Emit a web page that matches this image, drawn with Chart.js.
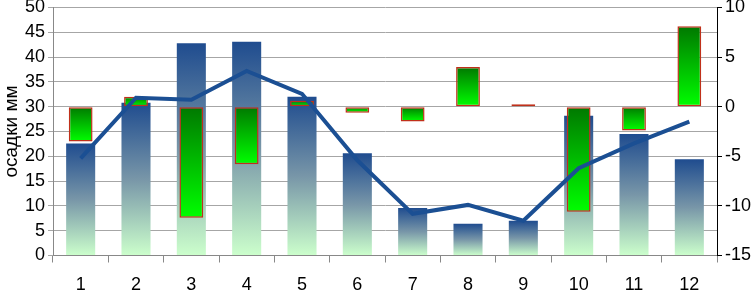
<!DOCTYPE html>
<html>
<head>
<meta charset="utf-8">
<script src="https://cdn.jsdelivr.net/npm/chart.js@4"></script>
<style>
  body { margin: 0; background: #fff; }
  #wrap { width: 753px; height: 291px; position: relative; }
</style>
</head>
<body>
<div id="wrap"><canvas id="myChart"></canvas></div>
<script>
"use strict";
var months = ['1', '2', '3', '4', '5', '6', '7', '8', '9', '10', '11', '12'];
// осадки, мм (left axis)
var precip = [22.6, 30.8, 42.8, 43.1, 32.0, 20.6, 9.6, 6.4, 7.0, 28.2, 24.5, 19.4];
// anomalies (right axis)
var anomaly = [-3.5, 1.0, -11.2, -5.8, 0.6, -0.6, -1.5, 4.0, 0.25, -10.6, -2.4, 8.1];
// temperature line (right axis)
var temp = [-5.2, 0.9, 0.7, 3.6, 1.3, -5.4, -10.8, -9.9, -11.5, -6.2, -3.7, -1.5];

var font = { family: 'Liberation Sans, Arial, sans-serif', size: 18 };

// gradient for each bar from its own top to bottom
function barGradient(ctx, axisId, from, to, mid) {
    var chart = ctx.chart;
    if (!chart.chartArea || !chart.scales[axisId]) return from;
    var scale = chart.scales[axisId];
    var a = scale.getPixelForValue(ctx.raw);
    var b = scale.getPixelForValue(0);
    var top = Math.min(a, b), bot = Math.max(a, b);
    if (bot - top < 1) bot = top + 1;
    var g = chart.ctx.createLinearGradient(0, top, 0, bot);
    g.addColorStop(0, from);
    if (mid) g.addColorStop(0.5, mid);
    g.addColorStop(1, to);
    return g;
}

var ctx = document.getElementById('myChart').getContext('2d');
var myChart = new Chart(ctx, {
    type: 'bar',
    data: {
        labels: months,
        datasets: [{
            type: 'line',
            data: temp,
            yAxisID: 'y1',
            borderColor: '#1b4f93',
            borderWidth: 4,
            pointRadius: 0,
            tension: 0,
            order: 0
        }, {
            data: anomaly,
            yAxisID: 'y1',
            grouped: false,
            categoryPercentage: 1,
            barPercentage: 0.43,
            backgroundColor: function (c) { return barGradient(c, 'y1', '#007800', '#00ff00'); },
            borderColor: '#c0301a',
            borderWidth: 1.5,
            borderSkipped: false,
            order: 1
        }, {
            data: precip,
            yAxisID: 'y',
            grouped: false,
            categoryPercentage: 1,
            barPercentage: 0.525,
            backgroundColor: function (c) { return barGradient(c, 'y', '#1f4c8f', '#ccffcc', '#7896a8'); },
            borderWidth: 0,
            order: 2
        }]
    },
    options: {
        responsive: true,
        maintainAspectRatio: false,
        animation: false,
        layout: { padding: 0 },
        plugins: {
            legend: { display: false },
            tooltip: { enabled: false }
        },
        scales: {
            x: {
                grid: {
                    offset: true,
                    drawOnChartArea: false,
                    color: '#888',
                    tickLength: 7
                },
                border: { color: '#888' },
                ticks: { color: '#000', font: font, padding: 12 },
                afterFit: function (s) { s.height = 35.5; }
            },
            y: {
                position: 'left',
                min: 0,
                max: 50,
                ticks: { stepSize: 5, autoSkip: false, color: '#000', font: font, padding: 3 },
                grid: { color: '#a6a6a6', tickLength: 5 },
                border: { color: '#888' },
                title: {
                    display: true,
                    text: 'осадки мм',
                    color: '#000',
                    font: { family: font.family, size: 19 },
                    padding: 0
                },
                afterFit: function (s) { s.width = 53; s.paddingTop = 7.5; s.paddingBottom = 0; }
            },
            y1: {
                position: 'right',
                min: -15,
                max: 10,
                ticks: { stepSize: 5, autoSkip: false, color: '#000', font: font, padding: 3 },
                grid: { drawOnChartArea: false, color: '#000', tickLength: 5 },
                border: { color: '#000' },
                afterFit: function (s) { s.width = 36; s.paddingTop = 7.5; s.paddingBottom = 0; }
            }
        }
    }
});
</script>
</body>
</html>
